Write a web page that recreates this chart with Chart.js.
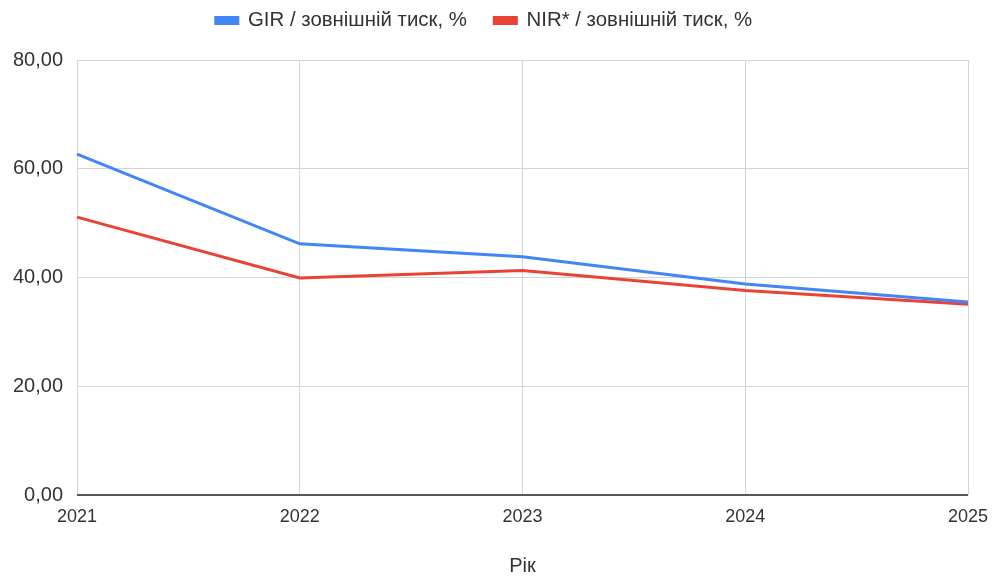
<!DOCTYPE html>
<html>
<head>
<meta charset="utf-8">
<script src="https://cdn.jsdelivr.net/npm/chart.js@4/dist/chart.umd.min.js"></script>
<style>
html,body{margin:0;padding:0;background:#fff;}
#wrap{width:1001px;height:578px;}
</style>
</head>
<body>
<div id="wrap"><canvas id="c" width="1001" height="578"></canvas></div>
<script>
const categories = ["2021", "2022", "2023", "2024", "2025"];
const girValues = [62.7, 46.2, 43.8, 38.8, 35.5];
const nirValues = [51.1, 39.9, 41.3, 37.6, 35.1];
const seriesLabels = ["GIR / зовнішній тиск, %", "NIR* / зовнішній тиск, %"];
const axisTitleX = "Рік";
const yTicks = [0, 20, 40, 60, 80];

const FONT = "'Liberation Sans', Arial, sans-serif";

new Chart(document.getElementById('c'), {
  type: 'line',
  data: {
    labels: categories,
    datasets: [
      { label: seriesLabels[0], data: girValues, borderColor: '#4285F4', backgroundColor: '#4285F4', borderWidth: 3, pointRadius: 0, tension: 0 },
      { label: seriesLabels[1], data: nirValues, borderColor: '#EA4335', backgroundColor: '#EA4335', borderWidth: 3, pointRadius: 0, tension: 0 }
    ]
  },
  options: {
    responsive: false,
    animation: false,
    layout: { padding: { left: 0, right: 33, top: -17.2, bottom: 0 } },
    plugins: {
      legend: {
        position: 'top',
        weight: 1000,
        labels: { boxWidth: 22, boxHeight: 6, color: '#333', font: { family: FONT, size: 20.4 }, padding: 27.5 }
      },
      subtitle: {
        display: true,
        text: ' ',
        position: 'top',
        weight: 500,
        font: { size: 10 },
        padding: { top: 0, bottom: 7.3 }
      },
      tooltip: { enabled: false }
    },
    scales: {
      x: {
        type: 'category',
        offset: false,
        grid: { color: '#d4d4d4', drawTicks: false, lineWidth: 1 },
        border: { display: false },
        ticks: { color: '#333', font: { family: FONT, size: 18 }, padding: 11, maxRotation: 0 },
        title: { display: true, text: axisTitleX, color: '#333', font: { family: FONT, size: 20 }, padding: { top: 10, bottom: 0 } },
        afterFit: s => { s.height = 83; }
      },
      y: {
        min: 0, max: 80,
        afterBuildTicks: s => { s.ticks = yTicks.map(v => ({ value: v })); },
        grid: {
          color: ctx => ctx.tick && ctx.tick.value === 0 ? '#555' : '#d4d4d4',
          lineWidth: ctx => ctx.tick && ctx.tick.value === 0 ? 2 : 1,
          drawTicks: false
        },
        border: { display: false },
        ticks: {
          color: '#333', font: { family: FONT, size: 20 }, padding: 14,
          callback: v => v.toFixed(2).replace('.', ',')
        },
        afterFit: s => { s.width = 77; }
      }
    }
  }
});
</script>
</body>
</html>
